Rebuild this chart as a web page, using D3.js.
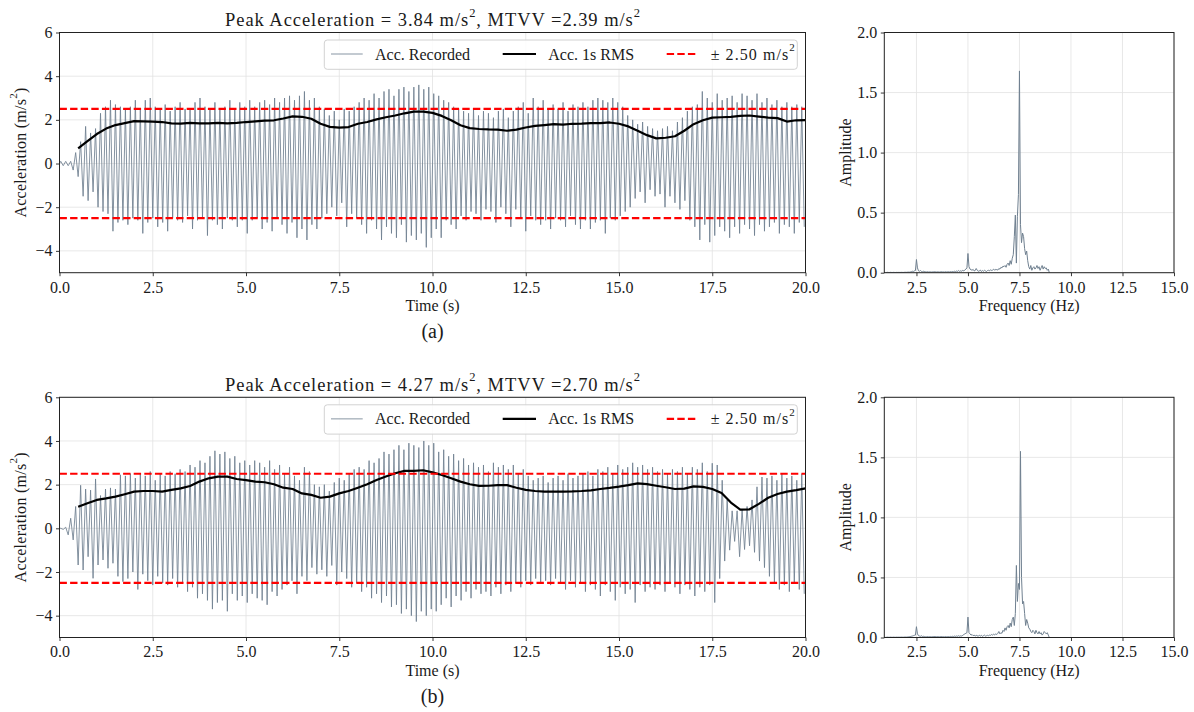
<!DOCTYPE html>
<html><head><meta charset="utf-8">
<script src="https://cdn.jsdelivr.net/npm/d3@7"></script>
<style>
body{margin:0;background:#fff;}
svg text{font-family:"Liberation Serif","Times New Roman",serif;fill:#1a1a1a;}
</style></head><body>
<svg id="chart" width="1194" height="712"></svg>
<script>
// ---------------- DATA ----------------
const timeTicks = [0, 2.5, 5, 7.5, 10, 12.5, 15, 17.5, 20];
const accTicks = [-4, -2, 0, 2, 4, 6];
const freqTicks = [2.5, 5, 7.5, 10, 12.5, 15];
const ampTicks = [0, 0.5, 1, 1.5, 2];
const limit = 2.5;
const dominantHz = 7.5;      // one peak + one trough per cycle
const rmsStart = 0.5, rmsStep = 0.25;
const specStart = 1.0, specStep = 0.05;

const titleA = ["Peak Acceleration = 3.84 m/s", "2", ", MTVV =2.39 m/s", "2"];
const titleB = ["Peak Acceleration = 4.27 m/s", "2", ", MTVV =2.70 m/s", "2"];

// (a) per-cycle peaks / troughs of recorded acceleration (m/s^2)
const peaksA = [
 0.1,0.1,0.1,0.5,1.0,1.7,1.4,1.6,2.3,2.6,2.9,2.7,2.6,2.5,2.6,
 2.9,2.5,2.9,3.0,2.6,2.5,2.7,2.4,2.6,2.8,2.5,2.5,2.8,3.0,2.6,
 2.5,2.8,2.5,2.6,2.9,2.5,2.8,2.6,2.9,2.6,2.8,2.9,2.7,3.0,2.8,
 3.0,3.1,2.9,3.1,3.3,2.9,3.0,2.6,2.5,2.2,2.4,2.0,2.5,2.4,2.6,
 2.8,3.0,2.9,3.2,3.0,3.3,3.4,3.1,3.4,3.5,3.3,3.5,3.6,3.4,3.5,
 3.2,3.1,2.9,2.8,2.6,2.5,2.4,2.3,2.5,2.2,2.4,2.3,2.1,2.4,2.5,
 2.1,2.4,2.6,2.8,2.3,3.0,2.6,2.9,2.5,2.7,2.5,2.8,2.4,2.7,2.6,
 2.8,2.6,2.9,3.0,2.9,2.8,3.0,2.8,2.6,2.2,2.0,1.8,1.9,1.7,1.6,
 1.5,1.6,1.7,1.5,1.9,2.1,2.4,2.6,2.7,3.3,3.0,2.8,3.2,2.9,3.0,
 3.1,2.8,3.2,3.1,2.9,3.2,2.8,3.0,2.7,2.9,2.6,2.8,2.6,2.7,2.6
];
const troughsA = [
 -0.1,-0.1,-0.3,-0.6,-1.5,-1.7,-1.3,-2.0,-2.2,-2.3,-3.1,-2.7,-2.6,-2.8,-2.5,
 -2.6,-3.2,-2.7,-2.5,-2.9,-2.7,-3.1,-2.5,-2.6,-2.7,-2.4,-3.0,-2.6,-2.5,-3.3,
 -2.6,-2.8,-3.0,-2.5,-2.6,-2.9,-2.6,-3.2,-2.6,-2.5,-3.0,-2.7,-3.1,-2.5,-2.8,
 -3.2,-2.7,-3.4,-3.0,-3.5,-2.8,-3.0,-2.5,-2.3,-2.0,-2.4,-1.8,-2.9,-2.3,-2.5,
 -2.8,-3.2,-2.6,-3.0,-3.5,-2.9,-3.2,-3.4,-2.8,-3.6,-3.3,-3.5,-3.2,-3.84,-3.4,
 -3.0,-3.4,-2.6,-2.8,-3.0,-2.4,-2.6,-2.2,-2.3,-2.6,-2.1,-2.2,-2.7,-2.0,-2.3,
 -2.9,-2.1,-2.5,-3.1,-2.4,-2.6,-2.8,-2.6,-3.0,-2.5,-2.6,-2.9,-2.4,-2.8,-3.0,
 -2.6,-3.0,-2.7,-2.6,-3.2,-2.5,-2.6,-2.4,-2.2,-2.0,-1.6,-1.3,-1.8,-1.2,-1.5,
 -1.4,-2.0,-1.5,-1.8,-2.1,-1.7,-2.6,-2.9,-3.5,-2.8,-3.6,-3.3,-2.9,-3.1,-3.4,
 -2.9,-3.2,-2.8,-3.0,-3.3,-2.8,-3.1,-2.9,-2.7,-3.2,-2.8,-2.9,-3.2,-2.7,-2.9
];
const rmsA = [
 0.69,1.02,1.35,1.60,1.76,1.85,1.94,1.93,1.92,1.90,1.84,1.83,1.86,1.84,1.84,1.86,1.84,1.86,1.90,1.93,
 1.96,1.98,2.06,2.16,2.14,2.05,1.82,1.68,1.64,1.67,1.82,1.90,2.02,2.12,2.20,2.30,2.38,2.38,2.32,2.18,
 1.98,1.75,1.62,1.58,1.56,1.55,1.50,1.55,1.65,1.72,1.76,1.80,1.78,1.82,1.83,1.85,1.85,1.88,1.82,1.70,
 1.50,1.30,1.15,1.18,1.25,1.50,1.80,1.98,2.10,2.12,2.14,2.18,2.20,2.15,2.10,2.08,1.92,1.98,1.99
];
const specA = [
 0.002,0.002,0.003,0.002,0.002,0.003,0.002,0.002,0.003,0.002,0.002,0.003,0.002,0.003,0.002,0.003,0.003,0.002,0.003,0.004,
 0.003,0.004,0.005,0.004,0.006,0.008,0.012,0.010,0.015,0.018,0.110,0.040,0.015,0.012,0.018,0.010,0.008,0.012,0.009,0.007,
 0.006,0.008,0.005,0.007,0.006,0.005,0.007,0.006,0.008,0.005,0.006,0.007,0.005,0.006,0.008,0.006,0.007,0.005,0.008,0.006,
 0.007,0.008,0.006,0.009,0.007,0.010,0.008,0.012,0.009,0.014,0.011,0.018,0.010,0.016,0.012,0.020,0.015,0.022,0.030,0.040,
 0.160,0.050,0.030,0.025,0.020,0.028,0.015,0.018,0.035,0.020,0.012,0.015,0.022,0.010,0.018,0.012,0.020,0.015,0.010,0.018,
 0.020,0.015,0.025,0.018,0.022,0.030,0.020,0.028,0.025,0.022,0.035,0.030,0.045,0.040,0.055,0.050,0.060,0.045,0.070,0.080,
 0.060,0.100,0.070,0.120,0.150,0.300,0.480,0.080,0.470,0.650,1.680,0.400,0.250,0.330,0.300,0.200,0.150,0.180,0.100,0.050,
 0.030,0.060,0.020,0.040,0.050,0.030,0.040,0.060,0.035,0.050,0.020,0.040,0.060,0.030,0.050,0.035,0.040,0.020,0.030,0.000
];

// (b)
const peaksB = [
 0.0,0.05,0.46,1.0,1.97,1.8,1.75,2.26,1.5,1.8,1.85,1.8,2.45,2.4,2.5,
 2.3,2.5,2.4,2.6,2.2,2.5,2.4,2.6,2.5,2.7,2.6,2.9,2.8,3.1,3.0,
 3.3,3.55,3.4,3.5,3.2,3.3,3.0,3.1,2.9,3.1,3.0,2.8,3.1,2.7,2.9,
 2.5,2.8,2.4,2.2,2.8,2.6,2.0,1.9,2.0,1.7,2.1,2.3,2.2,2.5,2.7,
 2.8,2.7,3.1,3.0,3.2,3.5,3.4,3.6,3.8,3.6,3.9,3.8,3.7,4.0,3.8,
 3.9,3.5,3.6,3.3,3.4,3.1,3.2,2.9,3.0,2.8,2.9,2.6,3.0,2.8,2.9,
 2.7,2.9,2.5,2.7,2.4,2.2,2.3,2.4,2.1,2.3,2.4,2.2,2.5,2.3,2.4,
 2.5,2.6,2.4,2.7,2.6,2.8,2.5,2.9,2.7,2.8,3.0,2.8,2.9,2.7,2.8,
 2.6,2.7,2.5,2.7,2.6,2.8,2.5,2.8,2.7,3.0,2.6,2.98,2.9,2.2,1.3,
 0.8,0.8,0.85,1.0,1.3,1.9,2.35,2.3,2.4,2.2,2.5,2.3,2.4,2.2,2.5
];
const troughsB = [
 -0.05,-0.3,-0.53,-1.68,-1.91,-1.3,-2.29,-1.68,-1.45,-1.83,-1.6,-2.2,-2.44,-2.3,-2.0,
 -2.8,-2.1,-2.4,-2.6,-2.2,-2.5,-2.6,-2.3,-2.7,-2.5,-2.9,-2.7,-3.2,-3.0,-3.3,
 -3.7,-3.4,-3.3,-3.8,-3.0,-3.3,-3.1,-3.4,-3.0,-3.2,-3.3,-3.5,-2.9,-3.1,-2.8,
 -2.6,-2.4,-3.0,-2.2,-2.4,-1.8,-2.1,-1.9,-2.2,-1.7,-2.6,-2.0,-2.3,-2.7,-2.5,
 -2.9,-2.7,-3.2,-3.0,-3.4,-3.1,-3.6,-3.5,-3.9,-3.7,-4.0,-4.27,-3.8,-4.0,-3.7,
 -3.8,-3.5,-3.2,-3.6,-3.1,-3.3,-2.9,-3.2,-2.8,-3.0,-2.9,-3.1,-2.7,-3.0,-2.6,
 -2.9,-2.5,-2.7,-2.4,-2.6,-2.3,-2.5,-2.4,-2.6,-2.3,-2.5,-2.8,-2.4,-2.7,-2.5,
 -2.9,-2.6,-2.8,-3.1,-2.6,-2.9,-3.3,-2.7,-3.0,-2.8,-3.4,-2.6,-2.9,-2.7,-2.8,
 -2.6,-2.9,-2.5,-2.7,-3.0,-2.6,-2.8,-3.1,-2.7,-2.9,-2.6,-3.4,-2.3,-1.5,-1.0,
 -0.6,-1.3,-0.97,-0.8,-1.1,-1.5,-1.8,-2.2,-2.5,-2.8,-2.6,-2.9,-2.5,-2.8,-3.0
];
const rmsB = [
 0.99,1.15,1.30,1.37,1.45,1.56,1.68,1.71,1.71,1.68,1.76,1.83,1.94,2.14,2.29,2.37,2.37,2.26,2.21,2.14,
 2.11,2.02,1.86,1.80,1.60,1.53,1.40,1.45,1.60,1.71,1.86,2.02,2.21,2.37,2.52,2.63,2.63,2.66,2.56,2.44,
 2.29,2.14,2.02,1.94,1.95,1.98,1.98,1.86,1.76,1.71,1.68,1.68,1.68,1.69,1.71,1.74,1.80,1.85,1.91,1.98,
 2.06,2.02,1.95,1.88,1.80,1.82,1.92,1.90,1.80,1.62,1.18,0.86,0.87,1.12,1.40,1.57,1.68,1.75,1.83
];
const specB = [
 0.002,0.002,0.003,0.002,0.002,0.003,0.002,0.002,0.003,0.002,0.002,0.003,0.002,0.003,0.002,0.003,0.003,0.002,0.003,0.004,
 0.003,0.004,0.005,0.006,0.008,0.010,0.012,0.015,0.018,0.020,0.090,0.030,0.015,0.012,0.010,0.014,0.008,0.010,0.007,0.006,
 0.006,0.008,0.005,0.007,0.006,0.005,0.007,0.006,0.008,0.005,0.006,0.007,0.005,0.006,0.008,0.006,0.007,0.005,0.008,0.006,
 0.007,0.008,0.006,0.009,0.007,0.010,0.008,0.012,0.009,0.013,0.010,0.015,0.010,0.014,0.012,0.018,0.025,0.030,0.035,0.040,
 0.170,0.040,0.030,0.020,0.025,0.015,0.020,0.012,0.018,0.015,0.010,0.020,0.012,0.018,0.010,0.015,0.020,0.012,0.015,0.018,
 0.015,0.020,0.018,0.025,0.020,0.028,0.022,0.030,0.025,0.035,0.050,0.030,0.040,0.035,0.060,0.050,0.080,0.060,0.090,0.100,
 0.080,0.120,0.090,0.150,0.170,0.100,0.200,0.600,0.300,0.450,0.400,1.550,0.500,0.280,0.300,0.200,0.100,0.150,0.120,0.080,
 0.070,0.050,0.040,0.060,0.050,0.030,0.060,0.040,0.030,0.050,0.030,0.040,0.020,0.030,0.050,0.040,0.030,0.040,0.020,0.000
];

const rows = [
  {title: titleA, peaks: peaksA, troughs: troughsA, rms: rmsA, spec: specA, tag: "(a)"},
  {title: titleB, peaks: peaksB, troughs: troughsB, rms: rmsB, spec: specB, tag: "(b)"}
];

// ---------------- LAYOUT ----------------
const svg = d3.select("#chart");
const rowTops = [32.5, 397.3], plotH = 240.2;
const tL = 59.5, tR = 805.5, sL = 884.3, sR = 1174;
const sigColor = "#708090";
const gridColor = "#e2e2e2";
const fmtMinus = d => (d < 0 ? "\u2212" + Math.abs(d) : String(d));
const fmt1 = d3.format(".1f");

function rich(sel, parts, supSize) {
  parts.forEach((p, i) => {
    const sup = i % 2 === 1;
    const t = sel.append("tspan").text(p);
    if (sup) t.attr("dy", -supSize * 0.75).attr("font-size", supSize);
    else if (i > 0) t.attr("dy", supSize * 0.75);
  });
}
// widen text (Computer Modern is wider than the available serif) with letter
// spacing, then place it left-anchored so it is centred on cx
function fitCentered(sel, target, cx) {
  const node = sel.node();
  const w = node.getComputedTextLength();
  const n = node.textContent.length;
  if (w > 0 && n > 1 && target > w) sel.attr("letter-spacing", (target - w) / (n - 1));
  sel.attr("text-anchor", "start").attr("x", cx - target / 2);
}

function styleAxis(g) {
  g.select(".domain").remove();
  g.selectAll(".tick line").attr("stroke", "#222").attr("stroke-width", 0.9);
  g.selectAll(".tick text").attr("font-size", 16).attr("fill", "#1a1a1a")
    .attr("font-family", '"Liberation Serif", serif');
}

rows.forEach((row, ri) => {
  const top = rowTops[ri], bottom = top + plotH;
  const x = d3.scaleLinear().domain([0, 20]).range([tL, tR]);
  const y = d3.scaleLinear().domain([-5, 6]).range([bottom, top]);

  const clipId = "clipT" + ri;
  svg.append("clipPath").attr("id", clipId).append("rect")
    .attr("x", tL).attr("y", top).attr("width", tR - tL).attr("height", plotH);

  // grid
  const g = svg.append("g");
  g.selectAll(".gx").data(timeTicks).join("line")
    .attr("x1", d => x(d)).attr("x2", d => x(d)).attr("y1", top).attr("y2", bottom)
    .attr("stroke", gridColor).attr("stroke-width", 0.8);
  g.selectAll(".gy").data(accTicks).join("line")
    .attr("x1", tL).attr("x2", tR).attr("y1", d => y(d)).attr("y2", d => y(d))
    .attr("stroke", gridColor).attr("stroke-width", 0.8);

  // recorded signal: zig-zag through per-cycle peaks and troughs
  const pts = [{t: 0, v: 0}];
  row.peaks.forEach((p, i) => {
    pts.push({t: (i + 0.25) / dominantHz, v: p});
    pts.push({t: (i + 0.75) / dominantHz, v: row.troughs[i]});
  });
  const plot = svg.append("g").attr("clip-path", `url(#${clipId})`);
  plot.append("path").datum(pts)
    .attr("d", d3.line().x(d => x(d.t)).y(d => y(d.v)))
    .attr("fill", "none").attr("stroke", sigColor).attr("stroke-opacity", 0.85).attr("stroke-width", 1);

  // RMS
  const rmsPts = row.rms.map((v, i) => ({t: rmsStart + i * rmsStep, v}));
  plot.append("path").datum(rmsPts)
    .attr("d", d3.line().x(d => x(d.t)).y(d => y(d.v)))
    .attr("fill", "none").attr("stroke", "#000").attr("stroke-width", 2.2).attr("stroke-linejoin", "round");

  // limits
  plot.selectAll(".lim").data([limit, -limit]).join("line")
    .attr("x1", x(0)).attr("x2", x(20)).attr("y1", d => y(d)).attr("y2", d => y(d))
    .attr("stroke", "#ff0000").attr("stroke-width", 2.2).attr("stroke-dasharray", "7.4,3.2");

  // spines
  svg.append("rect").attr("x", tL).attr("y", top).attr("width", tR - tL).attr("height", plotH)
    .attr("fill", "none").attr("stroke", "#222").attr("stroke-width", 1);

  // axes
  svg.append("g").attr("transform", `translate(0,${bottom})`)
    .call(d3.axisBottom(x).tickValues(timeTicks).tickFormat(fmt1).tickSize(3.5).tickPadding(5))
    .call(styleAxis);
  svg.append("g").attr("transform", `translate(${tL},0)`)
    .call(d3.axisLeft(y).tickValues(accTicks).tickFormat(fmtMinus).tickSize(3.5).tickPadding(3.5))
    .call(styleAxis);

  // labels
  const tt = svg.append("text").attr("y", top - 6.5).attr("font-size", 18.5);
  rich(tt, row.title, 12.5);
  fitCentered(tt, 415, (tL + tR) / 2);
  svg.append("text").attr("x", (tL + tR) / 2).attr("y", bottom + 38.3)
    .attr("text-anchor", "middle").attr("font-size", 16).text("Time (s)");
  const yl = svg.append("text").attr("transform", `translate(25.5,${(top + bottom) / 2}) rotate(-90)`)
    .attr("y", 0).attr("font-size", 16);
  rich(yl, ["Acceleration (m/s", "2", ")"], 11);
  fitCentered(yl, 130, 0);
  svg.append("text").attr("x", (tL + tR) / 2).attr("y", bottom + 65.5)
    .attr("text-anchor", "middle").attr("font-size", 20).text(row.tag);

  // legend
  const lg = svg.append("g").attr("transform", `translate(0,${top})`);
  lg.append("rect").attr("x", 324.3).attr("y", 7.5).attr("width", 473).attr("height", 29.3)
    .attr("rx", 3).attr("fill", "#fff").attr("fill-opacity", 0.85)
    .attr("stroke", "#d2d2d2").attr("stroke-width", 1);
  const ly = 21.5;
  lg.append("line").attr("x1", 331).attr("x2", 362.7).attr("y1", ly).attr("y2", ly)
    .attr("stroke", sigColor).attr("stroke-opacity", 0.55).attr("stroke-width", 1.5);
  lg.append("text").attr("x", 375).attr("y", ly + 5.5).attr("font-size", 16).text("Acc. Recorded");
  lg.append("line").attr("x1", 502.7).attr("x2", 536).attr("y1", ly).attr("y2", ly)
    .attr("stroke", "#000").attr("stroke-width", 2.2);
  lg.append("text").attr("x", 548.3).attr("y", ly + 5.5).attr("font-size", 16).text("Acc. 1s RMS");
  lg.append("line").attr("x1", 666.7).attr("x2", 698.3).attr("y1", ly).attr("y2", ly)
    .attr("stroke", "#ff0000").attr("stroke-width", 2.2).attr("stroke-dasharray", "7.4,3.2");
  const lt = lg.append("text").attr("y", ly + 5.5).attr("font-size", 16);
  rich(lt, ["\u00b1 " + limit.toFixed(2) + " m/s", "2"], 11);
  fitCentered(lt, 84, 710.7 + 42);

  // ---------- spectrum ----------
  const fx = d3.scaleLinear().domain([0.94, 15]).range([sL, sR]);
  const fy = d3.scaleLinear().domain([0, 2]).range([bottom, top]);
  const sclip = "clipS" + ri;
  svg.append("clipPath").attr("id", sclip).append("rect")
    .attr("x", sL).attr("y", top).attr("width", sR - sL).attr("height", plotH);
  const sg = svg.append("g");
  sg.selectAll(".gx").data(freqTicks).join("line")
    .attr("x1", d => fx(d)).attr("x2", d => fx(d)).attr("y1", top).attr("y2", bottom)
    .attr("stroke", gridColor).attr("stroke-width", 0.8);
  sg.selectAll(".gy").data(ampTicks).join("line")
    .attr("x1", sL).attr("x2", sR).attr("y1", d => fy(d)).attr("y2", d => fy(d))
    .attr("stroke", gridColor).attr("stroke-width", 0.8);
  const sPts = row.spec.map((v, i) => ({f: specStart + i * specStep, v}));
  svg.append("g").attr("clip-path", `url(#${sclip})`).append("path").datum(sPts)
    .attr("d", d3.line().x(d => fx(d.f)).y(d => fy(d.v)))
    .attr("fill", "none").attr("stroke", sigColor).attr("stroke-width", 1);
  svg.append("rect").attr("x", sL).attr("y", top).attr("width", sR - sL).attr("height", plotH)
    .attr("fill", "none").attr("stroke", "#222").attr("stroke-width", 1);
  svg.append("g").attr("transform", `translate(0,${bottom})`)
    .call(d3.axisBottom(fx).tickValues(freqTicks).tickFormat(fmt1).tickSize(3.5).tickPadding(5))
    .call(styleAxis);
  svg.append("g").attr("transform", `translate(${sL},0)`)
    .call(d3.axisLeft(fy).tickValues(ampTicks).tickFormat(fmt1).tickSize(3.5).tickPadding(3.5))
    .call(styleAxis);
  svg.append("text").attr("x", (sL + sR) / 2).attr("y", bottom + 38)
    .attr("text-anchor", "middle").attr("font-size", 16).text("Frequency (Hz)");
  svg.append("text").attr("transform", `translate(851,${(top + bottom) / 2}) rotate(-90)`)
    .attr("text-anchor", "middle").attr("font-size", 16).text("Amplitude");
});
</script>
</body></html>
